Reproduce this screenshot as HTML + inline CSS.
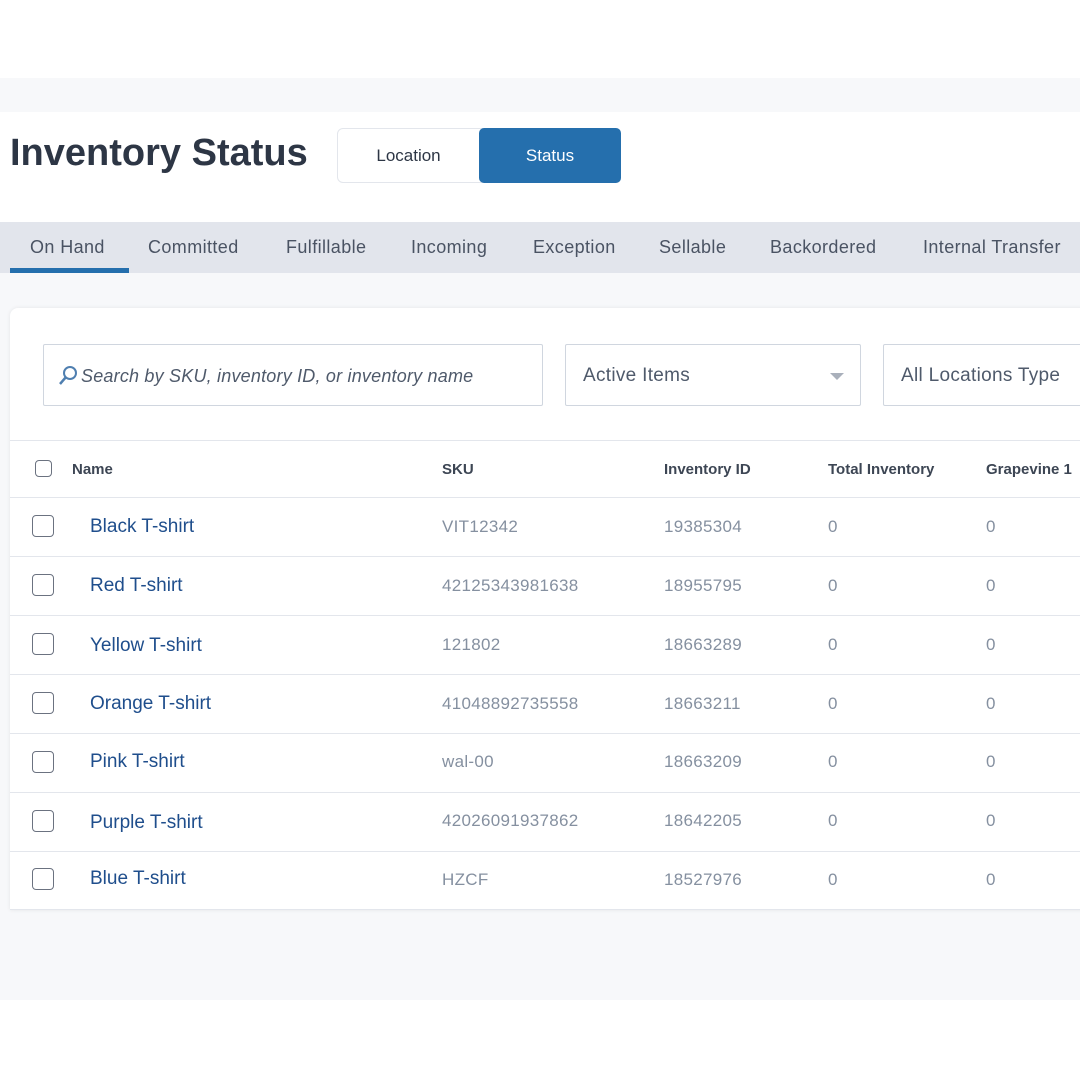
<!DOCTYPE html>
<html><head><style>
*{margin:0;padding:0;box-sizing:border-box}
body{width:1080px;height:1080px;background:#fff;font-family:"Liberation Sans",sans-serif;position:relative;overflow:hidden}
.abs{position:absolute}
.band{left:0;top:78px;width:1080px;height:34px;background:#f7f8fa}
.title{left:10px;top:132px;font-size:38px;font-weight:bold;color:#2d3645;letter-spacing:0px}
.seg{left:337px;top:128px;width:283px;height:55px;border:1px solid #e3e6ec;border-radius:6px;background:#fff}
.seg .l{position:absolute;left:0;top:0;width:141px;height:53px;line-height:53px;text-align:center;font-size:17px;color:#2d3645}
.seg .r{position:absolute;left:141px;top:-1px;width:142px;height:55px;line-height:55px;text-align:center;font-size:17px;color:#fff;background:#256fad;border-radius:5px}
.tabs{left:0;top:222px;width:1080px;height:51px;background:#e2e5ec}
.tab{position:absolute;top:15px;font-size:18px;color:#4a5363;letter-spacing:0.4px}
.ul{left:10px;top:268px;width:119px;height:5px;background:#256fad}
.bg{left:0;top:273px;width:1080px;height:727px;background:#f7f8fa}
.card{left:10px;top:308px;width:1080px;height:602px;background:#fff;border-radius:8px 0 0 0;box-shadow:0 0 4px rgba(0,0,0,0.08)}
.inp{position:absolute;height:62px;border:1px solid #d0d6df;border-radius:2px;background:#fff;font-size:19px;color:#4f5a6b;line-height:62px;letter-spacing:0.3px}
.hline{position:absolute;left:10px;width:1070px;height:1px;background:#e3e6ec}
.cb{position:absolute;width:22px;height:22px;border:1.5px solid #6b7280;border-radius:4px;background:#fff}
.th{position:absolute;top:461px;font-size:15px;font-weight:bold;color:#3d4654}
.nm{position:absolute;left:90px;font-size:19px;color:#1f4e8c}
.td{position:absolute;font-size:17px;color:#8590a0;letter-spacing:0.3px}
</style></head><body>
<div class="abs band"></div>
<div class="abs title">Inventory Status</div>
<div class="abs seg"><div class="l">Location</div><div class="r">Status</div></div>
<div class="abs tabs">
<span class="tab" style="left:30px">On Hand</span>
<span class="tab" style="left:148px">Committed</span>
<span class="tab" style="left:286px">Fulfillable</span>
<span class="tab" style="left:411px">Incoming</span>
<span class="tab" style="left:533px">Exception</span>
<span class="tab" style="left:659px">Sellable</span>
<span class="tab" style="left:770px">Backordered</span>
<span class="tab" style="left:923px">Internal Transfer</span>
</div>
<div class="abs ul"></div>
<div class="abs bg"></div>
<div class="abs card"></div>
<div class="inp" style="left:43px;top:344px;width:500px;padding-left:37px;font-style:italic;font-size:18px;letter-spacing:0.2px">Search by SKU, inventory ID, or inventory name</div>
<svg class="abs" style="left:57px;top:364px" width="22" height="22"><circle cx="13" cy="9" r="6" fill="none" stroke="#4f7fb0" stroke-width="2"/><line x1="9" y1="13" x2="3" y2="20" stroke="#4f7fb0" stroke-width="2.5"/></svg>
<div class="inp" style="left:565px;top:344px;width:296px;padding-left:17px">Active Items</div>
<div class="abs" style="left:830px;top:373px;width:0;height:0;border-left:7px solid transparent;border-right:7px solid transparent;border-top:7px solid #a9b0bb"></div>
<div class="inp" style="left:883px;top:344px;width:220px;padding-left:17px;white-space:nowrap;overflow:hidden">All Locations Type</div>
<div class="hline" style="top:440px"></div>
<div class="cb" style="left:35px;top:460px;width:17px;height:17px"></div>
<div class="th" style="left:72px">Name</div>
<div class="th" style="left:442px">SKU</div>
<div class="th" style="left:664px">Inventory ID</div>
<div class="th" style="left:828px">Total Inventory</div>
<div class="th" style="left:986px">Grapevine 1</div>
<div class="hline" style="top:497px"></div>

<div class="cb" style="left:32px;top:515px"></div><div class="nm" style="top:516px">Black T-shirt</div><div class="td" style="left:442px;top:517px">VIT12342</div><div class="td" style="left:664px;top:517px">19385304</div><div class="td" style="left:828px;top:517px">0</div><div class="td" style="left:986px;top:517px">0</div>
<div class="hline" style="top:556px"></div>
<div class="cb" style="left:32px;top:574px"></div><div class="nm" style="top:575px">Red T-shirt</div><div class="td" style="left:442px;top:576px">42125343981638</div><div class="td" style="left:664px;top:576px">18955795</div><div class="td" style="left:828px;top:576px">0</div><div class="td" style="left:986px;top:576px">0</div>
<div class="hline" style="top:615px"></div>
<div class="cb" style="left:32px;top:633px"></div><div class="nm" style="top:635px">Yellow T-shirt</div><div class="td" style="left:442px;top:635px">121802</div><div class="td" style="left:664px;top:635px">18663289</div><div class="td" style="left:828px;top:635px">0</div><div class="td" style="left:986px;top:635px">0</div>
<div class="hline" style="top:674px"></div>
<div class="cb" style="left:32px;top:692px"></div><div class="nm" style="top:693px">Orange T-shirt</div><div class="td" style="left:442px;top:694px">41048892735558</div><div class="td" style="left:664px;top:694px">18663211</div><div class="td" style="left:828px;top:694px">0</div><div class="td" style="left:986px;top:694px">0</div>
<div class="hline" style="top:733px"></div>
<div class="cb" style="left:32px;top:751px"></div><div class="nm" style="top:751px">Pink T-shirt</div><div class="td" style="left:442px;top:752px">wal-00</div><div class="td" style="left:664px;top:752px">18663209</div><div class="td" style="left:828px;top:752px">0</div><div class="td" style="left:986px;top:752px">0</div>
<div class="hline" style="top:792px"></div>
<div class="cb" style="left:32px;top:810px"></div><div class="nm" style="top:812px">Purple T-shirt</div><div class="td" style="left:442px;top:811px">42026091937862</div><div class="td" style="left:664px;top:811px">18642205</div><div class="td" style="left:828px;top:811px">0</div><div class="td" style="left:986px;top:811px">0</div>
<div class="hline" style="top:851px"></div>
<div class="cb" style="left:32px;top:868px"></div><div class="nm" style="top:868px">Blue T-shirt</div><div class="td" style="left:442px;top:870px">HZCF</div><div class="td" style="left:664px;top:870px">18527976</div><div class="td" style="left:828px;top:870px">0</div><div class="td" style="left:986px;top:870px">0</div>
<div class="hline" style="top:909px"></div>
</body></html>
